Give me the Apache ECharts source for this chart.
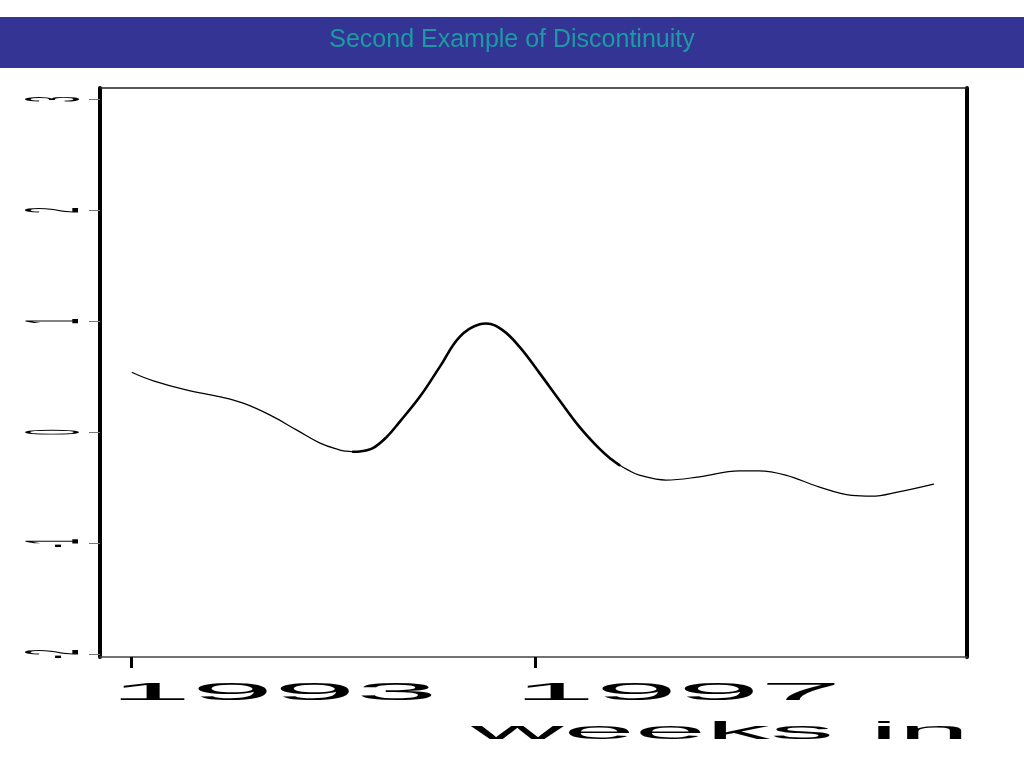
<!DOCTYPE html>
<html><head><meta charset="utf-8">
<script src="https://cdn.jsdelivr.net/npm/echarts@6/dist/echarts.min.js"></script>
<style>html,body{margin:0;padding:0;background:#fff}#c{width:1024px;height:768px}</style>
</head><body><div id="c"></div>
<script>
const titleText = 'Second Example of Discontinuity';
const xAxisTitle = 'weeks in';
const xTickValues = [1993, 1997];
const yTickValues = [3, 2, 1, 0, -1, -2];
const years = [1993.007, 1993.217, 1993.55, 1993.879, 1994.106, 1994.373, 1994.637, 1994.867, 1995.064, 1995.124,
  1995.193, 1995.262, 1995.39, 1995.525, 1995.657, 1995.854, 1996.052, 1996.249, 1996.447, 1996.513,
  1996.674, 1996.842, 1997.04, 1997.237, 1997.435, 1997.632, 1997.751, 1997.83, 1997.909, 1998.027,
  1998.291, 1998.622, 1999.017, 1999.212, 1999.476, 1999.805, 2000.131, 2000.328, 2000.595, 2000.941];
const values = [0.538, 0.462, 0.378, 0.318, 0.261, 0.153, 0.018, -0.099, -0.162, -0.172,
  -0.177, -0.174, -0.144, -0.045, 0.095, 0.318, 0.588, 0.859, 0.973, 0.979,
  0.919, 0.768, 0.532, 0.288, 0.048, -0.149, -0.245, -0.297, -0.338, -0.387,
  -0.432, -0.403, -0.349, -0.349, -0.387, -0.493, -0.570, -0.577, -0.538, -0.468];

const X_MIN = 1992.688, X_MAX = 2001.272, Y_MIN = -2.027, Y_MAX = 3.102;
const pts = years.map((x, i) => [x, values[i]]);
const segA = pts.slice(0, 11), segB = pts.slice(10, 28), segC = pts.slice(27);

const chart = echarts.init(document.getElementById('c'), null, {renderer: 'canvas'});
const FONT = 'Liberation Sans, Arial, Helvetica, sans-serif';
function lineSeries(data, w) {
  return {type: 'line', data: data, showSymbol: false, symbol: 'none', smooth: 0.4,
    lineStyle: {color: '#000', width: w, cap: 'round', join: 'round'}, xAxisIndex: 0, yAxisIndex: 0, z: 3};
}
chart.setOption({
  animation: false,
  backgroundColor: '#fff',
  title: {text: titleText, left: 'center', top: 28, padding: 0, z: 10,
    textStyle: {color: '#1b9ba3', fontSize: 25, fontWeight: 'normal', fontFamily: FONT}},
  grid: {left: 100, right: 57, top: 88, bottom: 111, show: false},
  xAxis: [
    {type: 'value', min: X_MIN, max: X_MAX, position: 'bottom',
      axisLine: {show: true, onZero: false, lineStyle: {color: '#444', width: 1.5}},
      axisTick: {show: true, customValues: xTickValues, length: 11, lineStyle: {color: '#000', width: 3}},
      axisLabel: {show: false}, splitLine: {show: false}},
    {type: 'value', min: X_MIN, max: X_MAX, position: 'top',
      axisLine: {show: true, onZero: false, lineStyle: {color: '#222', width: 1.5}},
      axisTick: {show: false}, axisLabel: {show: false}, splitLine: {show: false}}
  ],
  yAxis: [
    {type: 'value', min: Y_MIN, max: Y_MAX, position: 'left',
      axisLine: {show: true, onZero: false, lineStyle: {color: '#000', width: 4}},
      axisTick: {show: true, customValues: yTickValues, length: 11, lineStyle: {color: '#777', width: 1}},
      axisLabel: {show: false}, splitLine: {show: false}},
    {type: 'value', min: Y_MIN, max: Y_MAX, position: 'right',
      axisLine: {show: true, onZero: false, lineStyle: {color: '#000', width: 4}},
      axisTick: {show: false}, axisLabel: {show: false}, splitLine: {show: false}}
  ],
  series: [lineSeries(segA, 1.2), lineSeries(segB, 2.6), lineSeries(segC, 1.2)]
});

// stretched labels placed through the axes' own scales
const gLeft = chart.convertToPixel({xAxisIndex: 0}, X_MIN);
const gBottom = chart.convertToPixel({yAxisIndex: 0}, Y_MIN);
const graphics = [
  {type: 'rect', z: 0, shape: {x: 0, y: 17, width: 1024, height: 51}, style: {fill: '#343494'}}
];
xTickValues.forEach(v => {
  const px = chart.convertToPixel({xAxisIndex: 0}, v);
  graphics.push({type: 'text', z: 5, x: px - 22, y: gBottom + 36.5, scaleX: 6.15, scaleY: 1,
    style: {text: String(v), fontSize: 24, fontFamily: FONT, fill: '#000', align: 'left', verticalAlign: 'middle'}});
});
yTickValues.forEach(v => {
  const py = chart.convertToPixel({yAxisIndex: 0}, v);
  graphics.push({type: 'text', z: 5, x: gLeft - 43, y: py, rotation: Math.PI / 2, scaleX: 0.5, scaleY: 3.84,
    style: {text: String(v), fontSize: 20, fontFamily: FONT, fill: '#000', align: 'center', verticalAlign: 'middle'}});
});
graphics.push({type: 'text', z: 5, x: gLeft + 371, y: gBottom + 76, scaleX: 5.57, scaleY: 1,
  style: {text: xAxisTitle, fontSize: 23, fontFamily: FONT, fill: '#000', align: 'left', verticalAlign: 'middle'}});
chart.setOption({graphic: graphics});
</script>
</body></html>
